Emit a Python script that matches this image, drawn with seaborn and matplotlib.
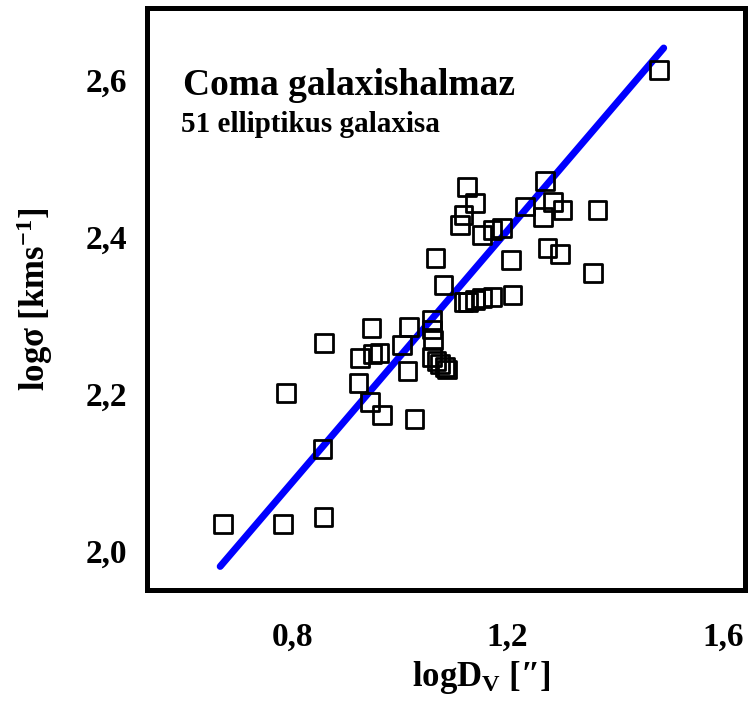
import numpy as np
import pandas as pd
import matplotlib
matplotlib.use("Agg")
import matplotlib.pyplot as plt
import seaborn as sns

# ========== data ==========
log_dv = [0.672, 0.783, 0.858, 0.856, 0.789, 0.859, 0.947, 1.017, 1.060, 1.062,
          0.962, 0.949, 0.926, 1.004, 1.014, 0.923, 0.945, 0.967, 1.027,
          1.060, 1.068, 1.075, 1.083, 1.088, 1.060,
          1.081, 1.066, 1.118, 1.127, 1.140, 1.153, 1.172, 1.209, 1.207,
          1.274, 1.298, 1.358, 1.367, 1.125, 1.140, 1.118, 1.112, 1.153,
          1.172, 1.190, 1.233, 1.270, 1.285, 1.302, 1.265, 1.482]
log_sigma = [2.034, 2.034, 2.043, 2.130, 2.201, 2.265, 2.284, 2.285, 2.294, 2.269,
             2.252, 2.251, 2.246, 2.262, 2.229, 2.214, 2.190, 2.173, 2.168,
             2.247, 2.242, 2.238, 2.234, 2.231, 2.282,
             2.339, 2.373, 2.317, 2.317, 2.320, 2.322, 2.324, 2.326, 2.371,
             2.386, 2.378, 2.354, 2.434, 2.464, 2.443, 2.428, 2.415, 2.403,
             2.409, 2.411, 2.439, 2.471, 2.445, 2.434, 2.425, 2.613]

# fitted line end points
fit_x = [0.666, 1.490]
fit_y = [1.980, 2.641]

x_ticks = [0.8, 1.2, 1.6]
x_tick_labels = ["0,8", "1,2", "1,6"]
y_ticks = [2.0, 2.2, 2.4, 2.6]
y_tick_labels = ["2,0", "2,2", "2,4", "2,6"]

df = pd.DataFrame({"logDv": log_dv, "logsigma": log_sigma})

# ========== style ==========
sns.set_theme(style="white")
plt.rcParams["font.family"] = ["Liberation Serif", "DejaVu Serif"]
plt.rcParams["font.weight"] = "bold"
plt.rcParams["text.color"] = "black"
plt.rcParams["axes.labelcolor"] = "black"
plt.rcParams["xtick.color"] = "black"
plt.rcParams["ytick.color"] = "black"
plt.rcParams["mathtext.fontset"] = "custom"
plt.rcParams["mathtext.rm"] = "Liberation Serif:bold"
plt.rcParams["mathtext.it"] = "Liberation Serif:bold"
plt.rcParams["mathtext.bf"] = "Liberation Serif:bold"
plt.rcParams["mathtext.default"] = "rm"

fig = plt.figure(figsize=(7.51, 7.08), dpi=100)
ax = fig.add_axes([0.1957, 0.1667, 0.7963, 0.822])

sns.lineplot(x=fit_x, y=fit_y, color="#0000ff", linewidth=5, ax=ax, zorder=2)
sns.scatterplot(data=df, x="logDv", y="logsigma", marker="s", s=165,
                facecolors="none", edgecolor="black", linewidth=2.0,
                ax=ax, zorder=3)

ax.set_xlim(0.530, 1.641)
ax.set_ylim(1.950, 2.692)
ax.set_xticks(x_ticks)
ax.set_xticklabels(x_tick_labels)
ax.set_yticks(y_ticks)
ax.set_yticklabels(y_tick_labels)
ax.tick_params(axis="both", length=0, labelsize=24)
ax.tick_params(axis="x", pad=23)
ax.tick_params(axis="y", pad=14)
for lab in ax.get_xticklabels() + ax.get_yticklabels():
    lab.set_fontweight("bold")

for sp in ax.spines.values():
    sp.set_visible(True)
    sp.set_color("black")
    sp.set_linewidth(3.6)

ax.set_xlabel("logD$_{V}$ [″]", fontsize=25, fontweight="bold")
ax.xaxis.set_label_coords(0.559, -0.118)
ax.set_ylabel("logσ [kms$^{-1}$]", fontsize=25, fontweight="bold", labelpad=22)

ax.text(0.06, 0.85, "Coma galaxishalmaz", transform=ax.transAxes,
        fontsize=27, fontweight="bold", ha="left", va="baseline")
ax.text(0.057, 0.787, "51 elliptikus galaxisa", transform=ax.transAxes,
        fontsize=21, fontweight="bold", ha="left", va="baseline")

ax.grid(False)
fig.savefig("out.png", dpi=100)
